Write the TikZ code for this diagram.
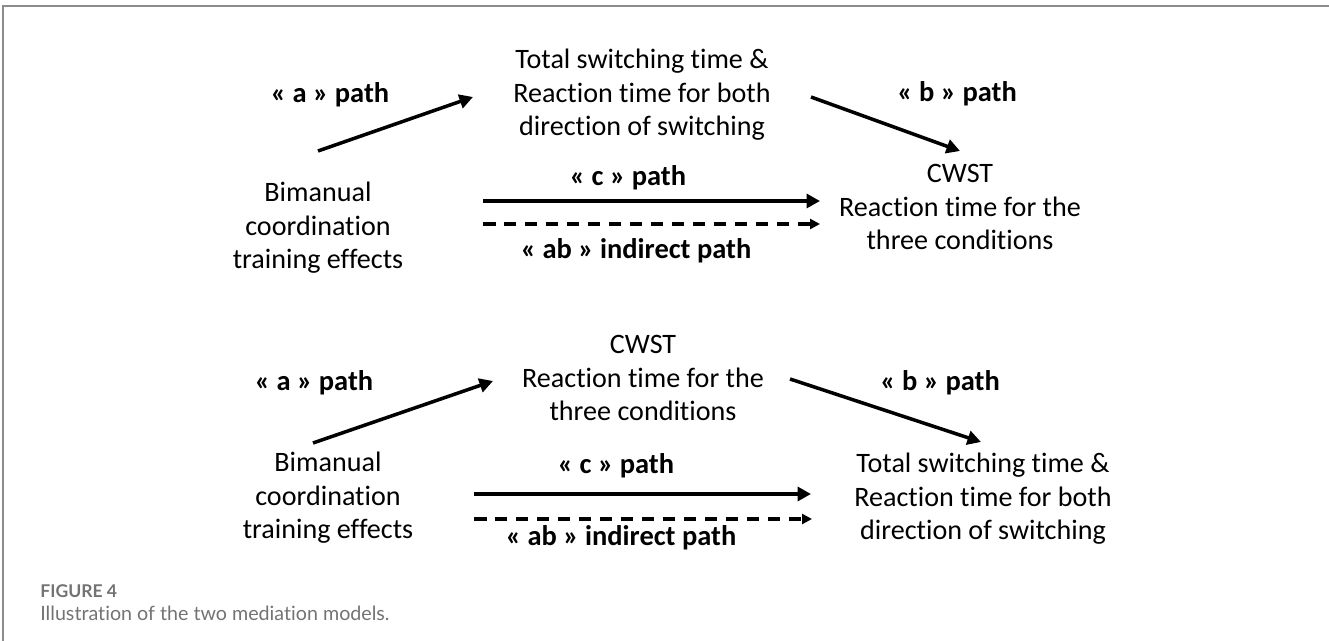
\documentclass[tikz,border=0pt]{standalone}
\usepackage{fontspec}
\setmainfont{Carlito}[Ligatures=NoCommon]
\newfontfamily\capfont{Lato}[Ligatures=NoCommon]
\usetikzlibrary{arrows.meta}
\definecolor{framegray}{HTML}{8C8C8C}
\definecolor{capgray}{HTML}{737373}
\tikzset{
  box/.style={align=center,inner sep=0pt,font=\fontsize{16}{19}\selectfont},
  lbl/.style={inner sep=0pt,font=\fontsize{16.2}{19}\selectfont\bfseries},
  effect/.style={-{Triangle[length=0.27cm,width=0.28cm]},line width=2pt},
  indirect/.style={-{Triangle[length=0.2cm,width=0.2cm]},line width=1.8pt,dash pattern=on 0.25cm off 0.17cm}
}
\begin{document}
\begin{tikzpicture}[x=0.02cm,y=-0.02cm,line join=miter]
\useasboundingbox (0,0) rectangle (1329,641);
\draw[framegray,line width=1.2pt] (3,641) -- (3,6) -- (1329,6);
% first model
\node[box] (x1) at (318,228) {Bimanual\\coordination\\training effects};
\node[box] (m1) at (642,95) {Total switching time \&\\Reaction time for both\\direction of switching};
\node[box] (y1) at (960,207) {CWST\\Reaction time for the\\three conditions};
\coordinate (a1s) at (318,151); \coordinate (a1e) at (473,97);
\coordinate (b1s) at (811,97);  \coordinate (b1e) at (960,151);
\coordinate (c1s) at (483,201); \coordinate (c1e) at (820,201);
\coordinate (d1s) at (483,224); \coordinate (d1e) at (820,224);
\draw[effect] (a1s) -- (a1e);
\draw[effect] (b1s) -- (b1e);
\draw[effect] (c1s) -- (c1e);
\draw[indirect] (d1s) -- (d1e);
\node[lbl] (la1) at (330,95) {« a » path};
\node[lbl] (lb1) at (957,94) {« b » path};
\node[lbl] (lc1) at (628,178) {« c » path};
\node[lbl] (lab1) at (636,251) {« ab » indirect path};
% second model
\node[box] (x2) at (328,498) {Bimanual\\coordination\\training effects};
\node[box] (m2) at (643,378) {CWST\\Reaction time for the\\three conditions};
\node[box] (y2) at (983,499) {Total switching time \&\\Reaction time for both\\direction of switching};
\coordinate (a2s) at (313,443); \coordinate (a2e) at (493,381);
\coordinate (b2s) at (790,379); \coordinate (b2e) at (981,442);
\coordinate (c2s) at (474,494); \coordinate (c2e) at (811,494);
\coordinate (d2s) at (474,519); \coordinate (d2e) at (812,519);
\draw[effect] (a2s) -- (a2e);
\draw[effect] (b2s) -- (b2e);
\draw[effect] (c2s) -- (c2e);
\draw[indirect] (d2s) -- (d2e);
\node[lbl] (la2) at (314,383) {« a » path};
\node[lbl] (lb2) at (940,383) {« b » path};
\node[lbl] (lc2) at (616,466) {« c » path};
\node[lbl] (lab2) at (621,538) {« ab » indirect path};
% caption
\node[anchor=west,inner sep=0pt,text=capgray,font=\capfont\bfseries\fontsize{10}{12}\selectfont] (fig) at (40,591) {FIGURE 4};
\node[anchor=west,inner sep=0pt,text=capgray,font=\capfont\fontsize{11.2}{14}\selectfont] (cap) at (40,613) {Illustration of the two mediation models.};
\end{tikzpicture}
\end{document}
